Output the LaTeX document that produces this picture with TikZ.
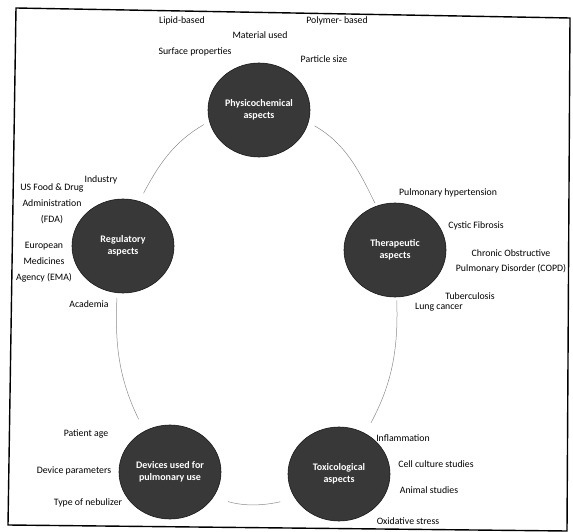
\documentclass[tikz,border=0pt]{standalone}
\usepackage{fontspec}
\setmainfont{Carlito}
\usepackage{tikz}
\usetikzlibrary{shapes.geometric}
\begin{document}
\begin{tikzpicture}[x=1pt,y=1pt,
  aspect/.style={ellipse, fill=black!78, draw=black!90, line width=0.6pt, minimum width=102pt, minimum height=94pt, inner sep=0pt, align=center, text=white, font=\fontsize{10}{11.5}\selectfont\bfseries},
  item/.style={align=center, inner sep=1pt, font=\fontsize{9.8}{11}\selectfont},
  stack/.style={item, font=\fontsize{9.8}{16}\selectfont},
  link/.style={draw=black!45, line width=0.5pt}]
\useasboundingbox (0,0) rectangle (573,-532);
% frame
\draw[line width=1.4pt] (16,-8) -- (570,-18) -- (567,-531) -- (8,-525) -- cycle;
% the five aspects
\node[aspect] (phys) at (259,-110) {Physicochemical\\aspects};
\node[aspect] (reg) at (123,-246) {Regulatory\\aspects};
\node[aspect] (ther) at (395,-250) {Therapeutic\\aspects};
\node[aspect] (dev) at (170,-472) {Devices used for\\pulmonary use};
\node[aspect] (tox) at (339,-474) {Toxicological\\aspects};
% loop between them
\draw[link, shorten <=6pt, shorten >=9pt] (phys.193) to[out=210, in=62] (reg.70);
\draw[link, shorten <=5pt, shorten >=13pt] (reg.263) to[out=267, in=116] (dev.122);
\draw[link, shorten <=15pt, shorten >=15pt] (dev.330) to[out=343, in=193] (tox.209);
\draw[link, shorten <=12pt, shorten >=3pt] (tox.57) to[out=62, in=272] (ther.272);
\draw[link, shorten <=3pt, shorten >=7pt] (ther.113) to[out=116, in=330] (phys.346);
% physicochemical
\node[item] (lipid) at (182,-21) {Lipid-based};
\node[item] (material) at (260,-35) {Material used};
\node[item] (polymer) at (337,-21) {Polymer- based};
\node[item] (surface) at (195,-52) {Surface properties};
\node[item] (size) at (324,-59) {Particle size};
% regulatory
\node[item] (industry) at (101,-180) {Industry};
\node[stack] (fda) at (52,-204) {US Food \& Drug\\Administration\\(FDA)};
\node[stack] (ema) at (44,-262) {European\\Medicines\\Agency (EMA)};
\node[item] (academia) at (89,-304) {Academia};
% therapeutic
\node[item] (hyper) at (448,-193) {Pulmonary hypertension};
\node[item] (cystic) at (476,-226) {Cystic Fibrosis};
\node[item, font=\fontsize{9.8}{15}\selectfont] (copd) at (511,-261.5) {Chronic Obstructive\\Pulmonary Disorder (COPD)};
\node[item] (tb) at (470,-296) {Tuberculosis};
\node[item] (lung) at (439,-307) {Lung cancer};
% devices
\node[item] (age) at (86,-434) {Patient age};
\node[item] (param) at (74,-471) {Device parameters};
\node[item] (nebul) at (88,-503) {Type of nebulizer};
% toxicological
\node[item] (inflam) at (403,-438) {Inflammation};
\node[item] (cell) at (436,-464) {Cell culture studies};
\node[item] (animal) at (429,-490) {Animal studies};
\node[item] (oxid) at (408,-521) {Oxidative stress};
\end{tikzpicture}
\end{document}
